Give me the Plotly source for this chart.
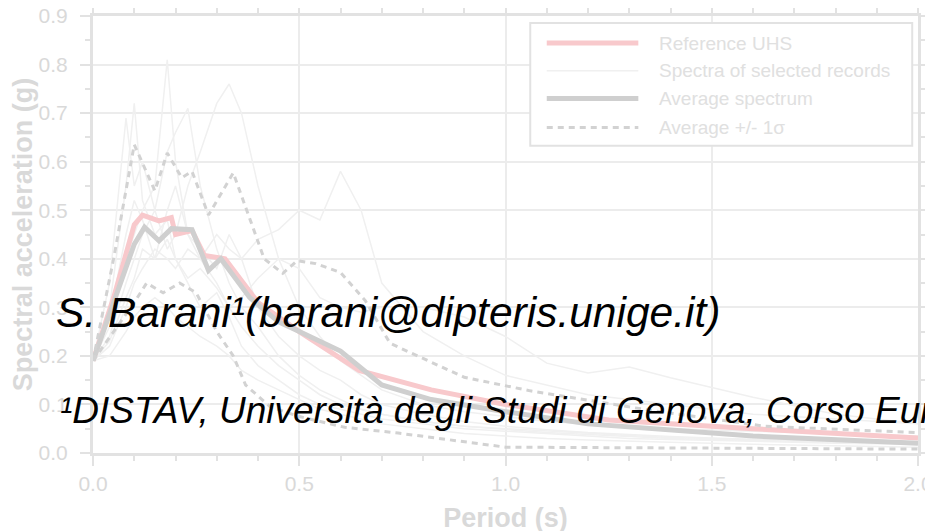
import plotly.graph_objects as go

# =============================
# DATA
# =============================

rec_T = [0, 0.04, 0.08, 0.1, 0.12, 0.15, 0.18, 0.2, 0.23, 0.26, 0.3, 0.33, 0.36, 0.4, 0.45,
         0.5, 0.55, 0.6, 0.65, 0.7, 0.8, 0.9, 1.0, 1.1, 1.2, 1.3, 1.4, 1.6, 1.8, 2.0]

rec_1 = [0.19, 0.30, 0.55, 0.72, 0.52, 0.45, 0.48, 0.40, 0.35, 0.30, 0.33, 0.28, 0.22, 0.18, 0.15,
         0.12, 0.10, 0.09, 0.08, 0.07, 0.06, 0.05, 0.045, 0.04, 0.035, 0.03, 0.028, 0.024, 0.02, 0.018]
rec_2 = [0.19, 0.26, 0.40, 0.45, 0.50, 0.55, 0.81, 0.60, 0.45, 0.40, 0.35, 0.30, 0.26, 0.22, 0.18,
         0.15, 0.12, 0.10, 0.09, 0.08, 0.065, 0.055, 0.05, 0.045, 0.04, 0.036, 0.032, 0.028, 0.024, 0.02]
rec_3 = [0.19, 0.35, 0.69, 0.55, 0.60, 0.50, 0.62, 0.66, 0.71, 0.55, 0.42, 0.35, 0.30, 0.26, 0.20,
         0.16, 0.13, 0.11, 0.09, 0.08, 0.065, 0.055, 0.048, 0.042, 0.038, 0.034, 0.03, 0.026, 0.022, 0.02]
rec_4 = [0.19, 0.24, 0.35, 0.40, 0.45, 0.50, 0.42, 0.45, 0.55, 0.62, 0.72, 0.76, 0.70, 0.55, 0.40,
         0.30, 0.24, 0.19, 0.16, 0.13, 0.10, 0.085, 0.075, 0.065, 0.06, 0.055, 0.05, 0.045, 0.04, 0.035]
rec_5 = [0.19, 0.22, 0.30, 0.35, 0.38, 0.42, 0.40, 0.38, 0.42, 0.40, 0.45, 0.42, 0.40, 0.44, 0.46,
         0.50, 0.48, 0.58, 0.50, 0.35, 0.25, 0.20, 0.16, 0.14, 0.12, 0.11, 0.10, 0.08, 0.07, 0.06]
rec_6 = [0.19, 0.23, 0.32, 0.36, 0.42, 0.40, 0.44, 0.40, 0.36, 0.38, 0.34, 0.30, 0.32, 0.36, 0.40,
         0.38, 0.32, 0.30, 0.29, 0.30, 0.30, 0.28, 0.24, 0.185, 0.165, 0.177, 0.155, 0.115, 0.08, 0.06]
rec_7 = [0.19, 0.20, 0.25, 0.28, 0.30, 0.32, 0.30, 0.28, 0.26, 0.24, 0.22, 0.20, 0.17, 0.15, 0.13,
         0.11, 0.09, 0.08, 0.07, 0.06, 0.05, 0.04, 0.035, 0.03, 0.027, 0.024, 0.022, 0.018, 0.015, 0.012]
rec_8 = [0.19, 0.28, 0.45, 0.52, 0.48, 0.40, 0.50, 0.55, 0.45, 0.42, 0.38, 0.45, 0.40, 0.30, 0.24,
         0.20, 0.17, 0.15, 0.12, 0.10, 0.08, 0.065, 0.055, 0.048, 0.042, 0.038, 0.034, 0.028, 0.024, 0.02]
records = [rec_1, rec_2, rec_3, rec_4, rec_5, rec_6, rec_7, rec_8]

uhs_T = [0, 0.05, 0.1, 0.12, 0.16, 0.19, 0.2, 0.24, 0.27, 0.32, 0.4, 0.5, 0.645, 0.82, 1.0, 1.25, 1.6, 2.0]
uhs_v = [0.19, 0.32, 0.47, 0.49, 0.478, 0.485, 0.45, 0.458, 0.407, 0.40, 0.31, 0.25, 0.17, 0.13, 0.10, 0.068, 0.05, 0.031]

avg_T = [0, 0.05, 0.1, 0.125, 0.16, 0.19, 0.24, 0.28, 0.31, 0.38, 0.45, 0.5, 0.6, 0.7, 0.82, 1.0, 1.2, 1.6, 2.0]
avg_v = [0.19, 0.31, 0.43, 0.465, 0.437, 0.462, 0.46, 0.376, 0.40, 0.32, 0.27, 0.25, 0.21, 0.14, 0.11, 0.085, 0.06, 0.035, 0.02]

up_T = [0, 0.05, 0.1, 0.15, 0.18, 0.215, 0.24, 0.28, 0.34, 0.415, 0.46, 0.495, 0.54, 0.6, 0.66,
        0.72, 0.82, 0.9, 1.06, 1.35, 1.63, 2.0]
up_v = [0.19, 0.40, 0.635, 0.54, 0.618, 0.567, 0.58, 0.49, 0.577, 0.40, 0.37, 0.396, 0.39, 0.372, 0.314,
        0.226, 0.187, 0.156, 0.128, 0.088, 0.055, 0.042]

lo_T = [0, 0.05, 0.1, 0.13, 0.17, 0.21, 0.25, 0.3, 0.34, 0.37, 0.43, 0.5, 0.61, 0.74, 1.0, 1.5, 2.0]
lo_v = [0.19, 0.25, 0.31, 0.35, 0.33, 0.35, 0.33, 0.25, 0.20, 0.14, 0.095, 0.075, 0.053, 0.041, 0.012, 0.01, 0.008]

x_ticks = [0, 0.5, 1.0, 1.5, 2.0]
y_ticks = [0, 0.1, 0.2, 0.3, 0.4, 0.5, 0.6, 0.7, 0.8, 0.9]

legend_labels = ["Reference UHS", "Spectra of selected records", "Average spectrum", "Average +/- 1σ"]

# =============================
# COLOURS (faded)
# =============================

C_UHS = "#f8c9cc"
C_REC = "#f0f0f0"
C_AVG = "#cfcfcf"
C_SIG = "#d2d2d2"
C_TXT = "#d9d9d9"
C_GRID = "#ececec"
C_FRAME = "#e2e2e2"
FONT = "Liberation Sans, Arial, sans-serif"

fig = go.Figure()

for r in records:
    fig.add_trace(go.Scatter(x=rec_T, y=r, mode="lines",
                             line=dict(color=C_REC, width=1.5), showlegend=False))

fig.add_trace(go.Scatter(x=uhs_T, y=uhs_v, mode="lines",
                         line=dict(color=C_UHS, width=5), showlegend=False))
fig.add_trace(go.Scatter(x=avg_T, y=avg_v, mode="lines",
                         line=dict(color=C_AVG, width=5), showlegend=False))
fig.add_trace(go.Scatter(x=up_T, y=up_v, mode="lines",
                         line=dict(color=C_SIG, width=3, dash="6px,5px"), showlegend=False))
fig.add_trace(go.Scatter(x=lo_T, y=lo_v, mode="lines",
                         line=dict(color=C_SIG, width=3, dash="6px,5px"), showlegend=False))

# =============================
# LEGEND (drawn by hand, long line samples)
# =============================

fig.add_shape(type="rect", xref="paper", yref="paper", x0=0.53, x1=0.993, y0=0.703, y1=0.984,
              line=dict(color=C_FRAME, width=2), fillcolor="white")
leg_rows = [0.938, 0.875, 0.811, 0.745]
leg_styles = [dict(color=C_UHS, width=5), dict(color=C_REC, width=1.5),
              dict(color=C_AVG, width=5), dict(color=C_SIG, width=3, dash="6px,5px")]
for lab, yy, st in zip(legend_labels, leg_rows, leg_styles):
    fig.add_shape(type="line", xref="paper", yref="paper", x0=0.550, x1=0.661, y0=yy, y1=yy, line=st)
    fig.add_annotation(text=lab, xref="paper", yref="paper", x=0.684, y=yy,
                       xanchor="left", yanchor="middle", showarrow=False,
                       font=dict(size=19, color="#e0e0e0", family=FONT))

# =============================
# OVERLAY TEXT
# =============================

fig.add_annotation(text="<i>S. Barani¹(barani@dipteris.unige.it)</i>",
                   xref="paper", yref="paper", x=-0.047, y=0.322,
                   xanchor="left", yanchor="middle", showarrow=False,
                   font=dict(size=42.5, color="black", family=FONT))
fig.add_annotation(text="<i>¹DISTAV, Università degli Studi di Genova, Corso Europa 26</i>",
                   xref="paper", yref="paper", x=-0.043, y=0.098,
                   xanchor="left", yanchor="middle", showarrow=False,
                   font=dict(size=37, color="black", family=FONT))

axis_common = dict(
    showline=True, linecolor=C_FRAME, linewidth=3, mirror="allticks",
    showgrid=True, gridcolor=C_GRID, gridwidth=1.5, zeroline=False,
    ticks="outside", ticklen=10, tickwidth=1.5, tickcolor=C_FRAME,
    tickfont=dict(size=21, color=C_TXT, family=FONT), automargin=False,
    ticklabeloverflow="allow",
)

fig.update_xaxes(range=[0, 2], tickvals=x_ticks, ticktext=[f"{v:.1f}" for v in x_ticks],
                 minor=dict(dtick=0.1, ticks="outside", ticklen=5, tickcolor=C_FRAME, showgrid=False),
                 title=dict(text="<b>Period (s)</b>", standoff=14,
                            font=dict(size=27, color=C_TXT, family=FONT)),
                 ticklabelstandoff=0, **axis_common)
fig.update_yaxes(range=[0, 0.9], tickvals=y_ticks, ticktext=[f"{v:.1f}" for v in y_ticks],
                 minor=dict(dtick=0.05, ticks="outside", ticklen=5, tickcolor=C_FRAME, showgrid=False),
                 title=dict(text="<b>Spectral acceleration (g)</b>", standoff=6,
                            font=dict(size=27, color=C_TXT, family=FONT)),
                 ticklabelstandoff=8, **axis_common)

# the page body adds an 8px offset, so the margins are set smaller on the left/top
fig.update_layout(
    width=933, height=531,
    margin=dict(l=85, r=23, t=8, b=86),
    paper_bgcolor="white", plot_bgcolor="white",
    showlegend=False,
)

fig.write_html("out.html")
